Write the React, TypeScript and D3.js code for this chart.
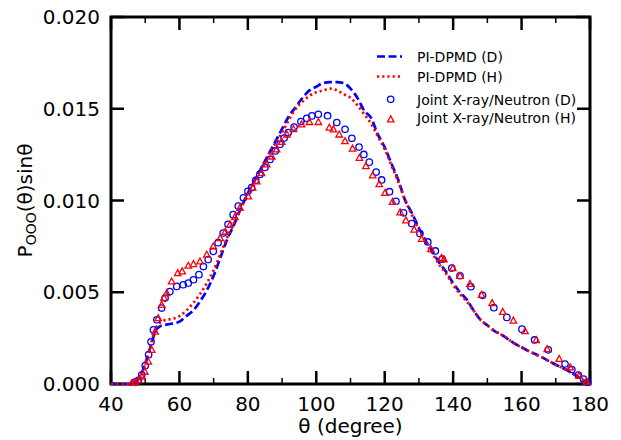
import React from "react";
import * as d3 from "d3";

const dpmdD_theta = [40, 45, 46, 47, 48, 49, 50, 51, 52, 53, 54, 55, 56, 58, 60, 62, 64, 66, 68, 70, 72, 74, 76, 78, 80, 82, 84, 86, 88, 90, 92, 94, 96, 98, 100, 102, 104, 106, 108, 110, 112, 114, 116, 118, 120, 122, 124, 126, 128, 130, 132, 134, 136, 138, 140, 142, 144, 146, 148, 150, 152, 154, 156, 158, 160, 162, 164, 166, 168, 170, 172, 174, 176, 178, 180];
const dpmdD_value = [0, 0, 0.00002, 0.0001, 0.0003, 0.0006, 0.0011, 0.0017, 0.0023, 0.0029, 0.0031, 0.0032, 0.00323, 0.0033, 0.0034, 0.0037, 0.004, 0.0045, 0.0051, 0.0059, 0.0069, 0.0079, 0.0087, 0.0096, 0.0104, 0.0111, 0.0118, 0.0125, 0.0132, 0.0139, 0.0146, 0.0151, 0.0156, 0.016, 0.0162, 0.0164, 0.01645, 0.01645, 0.0164, 0.0161, 0.0156, 0.0149, 0.0145, 0.0136, 0.0129, 0.012, 0.0111, 0.01, 0.0093, 0.0085, 0.0078, 0.0072, 0.0066, 0.0061, 0.0055, 0.005, 0.0046, 0.004, 0.0035, 0.0032, 0.0029, 0.0027, 0.00245, 0.0022, 0.002, 0.0018, 0.00163, 0.00145, 0.00125, 0.00105, 0.00087, 0.00068, 0.00045, 0.0002, 0];

const dpmdH_theta = [40, 45, 46, 47, 48, 49, 50, 51, 52, 53, 54, 55, 56, 58, 60, 62, 64, 66, 68, 70, 72, 74, 76, 78, 80, 82, 84, 86, 88, 90, 92, 94, 96, 98, 100, 102, 104, 106, 108, 110, 112, 114, 116, 118, 120, 122, 124, 126, 128, 130, 132, 134, 136, 138, 140, 142, 144, 146, 148, 150, 152, 154, 156, 158, 160, 162, 164, 166, 168, 170, 172, 174, 176, 178, 180];
const dpmdH_value = [0, 0, 0.00003, 0.00012, 0.0003, 0.0006, 0.0011, 0.0017, 0.0024, 0.003, 0.0033, 0.0034, 0.0035, 0.00355, 0.0037, 0.004, 0.0044, 0.0049, 0.0055, 0.0062, 0.0071, 0.008, 0.0088, 0.0096, 0.0104, 0.0111, 0.0118, 0.0125, 0.0131, 0.0137, 0.0144, 0.015, 0.0154, 0.0157, 0.0159, 0.016, 0.0161, 0.016, 0.0158, 0.0156, 0.0152, 0.0147, 0.0142, 0.0135, 0.0128, 0.0119, 0.011, 0.01, 0.0092, 0.0084, 0.0077, 0.0071, 0.0065, 0.006, 0.0054, 0.0049, 0.0045, 0.004, 0.0035, 0.0032, 0.0029, 0.0027, 0.00245, 0.0022, 0.002, 0.0018, 0.00163, 0.00145, 0.00125, 0.00105, 0.00087, 0.00068, 0.00045, 0.0002, 0];

const jointD_theta = [47, 48, 49, 50, 51, 51.7, 52.4, 53.4, 54.8, 55.8, 57.2, 59.2, 61.1, 62.6, 64.1, 65.7, 67, 68.4, 69.9, 71.3, 72.8, 74.2, 75.7, 77.2, 78.7, 80, 81.1, 82.3, 83.5, 85, 86.5, 88, 89.4, 90.6, 91.8, 93.5, 95.5, 97.2, 98.7, 100.6, 103.3, 106, 108.4, 110.4, 112.5, 113.9, 115.5, 117.5, 119.1, 121.4, 123.3, 125.5, 127.9, 130.3, 132.6, 134.8, 136.8, 139.6, 142, 145.2, 148.6, 151.9, 155.7, 160.1, 163.8, 167.8, 172.7, 174.7, 176.6, 178.1, 179.3];
const jointD_value = [0.0001, 0.0002, 0.0005, 0.001, 0.0016, 0.0023, 0.00295, 0.0035, 0.00414, 0.00468, 0.00504, 0.00532, 0.00541, 0.0055, 0.00568, 0.00596, 0.0064, 0.00678, 0.00723, 0.0077, 0.00823, 0.0087, 0.00923, 0.0097, 0.01015, 0.0105, 0.0107, 0.0111, 0.01142, 0.0118, 0.01224, 0.0127, 0.01306, 0.0134, 0.0137, 0.014, 0.0143, 0.01448, 0.01461, 0.0147, 0.01462, 0.01425, 0.01388, 0.01339, 0.01291, 0.01251, 0.01209, 0.01155, 0.01112, 0.01048, 0.00996, 0.00933, 0.00874, 0.0082, 0.00774, 0.00725, 0.0068, 0.00632, 0.0059, 0.0053, 0.00483, 0.00416, 0.00363, 0.00299, 0.0024, 0.00186, 0.00109, 0.00079, 0.00049, 0.00027, 0.0001];

const jointH_theta = [46, 47, 48, 49, 49.9, 50.9, 51.9, 52.9, 53.8, 54.8, 55.5, 56.3, 57.7, 59.5, 60.8, 62.6, 64.1, 66, 68, 69.9, 71.9, 73.4, 74.8, 76.2, 77.7, 80.1, 81.4, 82.6, 84, 85.5, 87, 88.4, 89.9, 91.4, 93.3, 95.7, 98, 100.6, 103.8, 105, 106.7, 108.4, 110.6, 112.6, 114.5, 116.5, 118.4, 120.1, 122.3, 124.5, 126.2, 128.6, 130.8, 133.5, 136.6, 137.3, 139.9, 142, 144.9, 148.3, 151.4, 154.5, 157.6, 161, 164.3, 167.5, 171, 174.2, 176.8, 179];
const jointH_value = [0.00002, 0.0001, 0.00022, 0.0004, 0.00067, 0.00122, 0.00186, 0.00286, 0.00359, 0.00432, 0.0047, 0.00496, 0.00559, 0.00605, 0.00614, 0.00645, 0.00654, 0.00668, 0.00705, 0.0075, 0.00795, 0.0083, 0.00869, 0.0091, 0.0096, 0.01023, 0.0107, 0.01105, 0.0115, 0.01197, 0.0124, 0.01279, 0.0132, 0.0136, 0.0139, 0.01415, 0.01428, 0.01428, 0.01397, 0.01388, 0.0136, 0.01324, 0.01283, 0.01233, 0.01188, 0.01137, 0.0109, 0.01042, 0.00993, 0.00936, 0.00892, 0.00842, 0.00791, 0.00736, 0.00687, 0.0068, 0.00632, 0.0059, 0.00546, 0.00486, 0.00441, 0.00393, 0.00346, 0.00288, 0.0024, 0.0019, 0.00137, 0.00091, 0.00045, 0.00013];

const xTicks = [40, 60, 80, 100, 120, 140, 160, 180];
const xMinorTicks = [50, 70, 90, 110, 130, 150, 170];
const yTicks = [0, 0.005, 0.01, 0.015, 0.02];
const legendLabels = ["PI-DPMD (D)", "PI-DPMD (H)", "Joint X-ray/Neutron (D)", "Joint X-ray/Neutron (H)"];

const W = 621, H = 440;
const M = { left: 111, right: 590, top: 17, bottom: 384 };
const FONT = "DejaVu Sans, sans-serif";
const BLUE = "#0000ff";
const RED = "#ff0000";

export default function App() {
  const x = d3.scaleLinear().domain([40, 180]).range([M.left, M.right]);
  const y = d3.scaleLinear().domain([0, 0.02]).range([M.bottom, M.top]);
  const line = d3
    .line<[number, number]>()
    .x((d) => x(d[0]))
    .y((d) => y(d[1]))
    .curve(d3.curveMonotoneX);
  const zip = (a: number[], b: number[]) => a.map((t, i) => [t, b[i]] as [number, number]);
  const triPath = (cx: number, cy: number, s: number) =>
    `M${cx},${cy - s}L${cx + s * 0.95},${cy + s * 0.75}L${cx - s * 0.95},${cy + s * 0.75}Z`;

  const MAJ = 13, MIN = 6;
  return (
    <svg width={W} height={H} style={{ position: "absolute", left: 0, top: 0, background: "#fff" }} fontFamily={FONT}>
      <defs>
        <clipPath id="plot">
          <rect x={M.left} y={M.top - 5} width={M.right - M.left + 2} height={M.bottom - M.top + 7} />
        </clipPath>
      </defs>
      {/* frame */}
      <rect x={M.left} y={M.top} width={M.right - M.left} height={M.bottom - M.top} fill="none" stroke="#000" strokeWidth={3} />
      {/* x ticks */}
      {xTicks.map((t) => (
        <g key={"xt" + t}>
          <line x1={x(t)} x2={x(t)} y1={M.bottom} y2={M.bottom - MAJ} stroke="#000" strokeWidth={2.5} />
          <line x1={x(t)} x2={x(t)} y1={M.top} y2={M.top + MAJ} stroke="#000" strokeWidth={2.5} />
          <text x={x(t)} y={411} fontSize={20} textAnchor="middle" fill="#000">{t}</text>
        </g>
      ))}
      {xMinorTicks.map((t) => (
        <g key={"xm" + t}>
          <line x1={x(t)} x2={x(t)} y1={M.bottom} y2={M.bottom - MIN} stroke="#000" strokeWidth={1.5} />
          <line x1={x(t)} x2={x(t)} y1={M.top} y2={M.top + MIN} stroke="#000" strokeWidth={1.5} />
        </g>
      ))}
      {yTicks.map((t) => (
        <g key={"yt" + t}>
          <line x1={M.left} x2={M.left + MAJ} y1={y(t)} y2={y(t)} stroke="#000" strokeWidth={2.5} />
          <line x1={M.right} x2={M.right - MAJ} y1={y(t)} y2={y(t)} stroke="#000" strokeWidth={2.5} />
          <text x={100} y={y(t)} dy="0.36em" fontSize={20} textAnchor="end" fill="#000">{t.toFixed(3)}</text>
        </g>
      ))}
      <g clipPath="url(#plot)">
        <path d={line(zip(dpmdD_theta, dpmdD_value)) || ""} fill="none" stroke={BLUE} strokeWidth={2.7} strokeDasharray="8,3.5" />
        <path d={line(zip(dpmdH_theta, dpmdH_value)) || ""} fill="none" stroke={RED} strokeWidth={2.7} strokeDasharray="2.2,3" />
        {jointD_theta.map((t, i) => (
          <circle key={"c" + i} cx={x(t)} cy={y(jointD_value[i])} r={3.2} fill="none" stroke={BLUE} strokeWidth={1.3} />
        ))}
        {jointH_theta.map((t, i) => (
          <path key={"t" + i} d={triPath(x(t), y(jointH_value[i]), 3.4)} fill="none" stroke={RED} strokeWidth={1.3} />
        ))}
      </g>
      {/* axis labels */}
      <text x={(M.left + M.right) / 2} y={433} fontSize={20} textAnchor="middle" fill="#000">θ (degree)</text>
      <text transform={`translate(32,${(M.top + M.bottom) / 2}) rotate(-90)`} fontSize={20} textAnchor="middle" fill="#000">
        P<tspan fontSize={14} dy={4}>OOO</tspan><tspan dy={-4}>(θ)sinθ</tspan>
      </text>
      {/* legend */}
      <line x1={377} x2={402} y1={56.5} y2={56.5} stroke={BLUE} strokeWidth={2.7} strokeDasharray="8,3.5" />
      <line x1={377} x2={402} y1={76.5} y2={76.5} stroke={RED} strokeWidth={2.7} strokeDasharray="2.2,3" />
      <circle cx={390.7} cy={99.3} r={3.2} fill="none" stroke={BLUE} strokeWidth={1.3} />
      <path d={triPath(390.7, 119.3, 3.4)} fill="none" stroke={RED} strokeWidth={1.3} />
      {legendLabels.map((l, i) => (
        <text key={l} x={417} y={[61.5, 81.5, 105, 122.5][i]} fontSize={14} fill="#000">{l}</text>
      ))}
    </svg>
  );
}
